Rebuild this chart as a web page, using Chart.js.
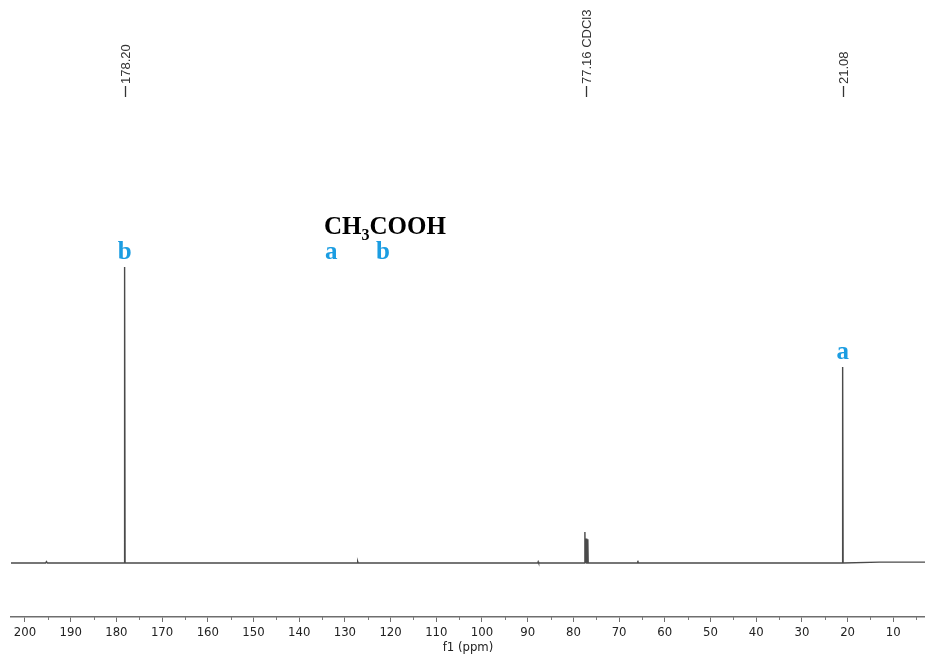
<!DOCTYPE html>
<html>
<head>
<meta charset="utf-8">
<script src="https://cdn.jsdelivr.net/npm/chart.js@4.4.1/dist/chart.umd.min.js"></script>
<style>
  html, body { margin: 0; padding: 0; background: #ffffff; }
  #wrap { width: 925px; height: 655px; position: relative; }
</style>
</head>
<body>
<div id="wrap"><canvas id="c" width="925" height="655"></canvas></div>
<script>
// ---- data (chemical shift in ppm, relative intensity) ----
const shiftPPM = [203.06, 195.5, 195.3, 195.1, 178.3, 178.2, 178.1, 127.3, 127.2, 127.1,
                  87.8, 87.7, 87.6, 77.6, 77.48, 77.4, 77.24, 77.16, 77.08, 76.92, 76.84, 76.76,
                  66.0, 65.9, 65.8, 21.18, 21.08, 20.98, 13.0, 3.06];
const intensity = [0, 0, 0.5, 0, 0, 100, 0, 0, 0.5, 0,
                   0, 0.4, 0, 0, 10.5, 0, 0, 8.3, 0, 0, 8.0, 0,
                   0, 0.8, 0, 0, 66.2, 0, 0.3, 0.3];
const majorTicks = [200, 190, 180, 170, 160, 150, 140, 130, 120, 110, 100, 90, 80, 70, 60, 50, 40, 30, 20, 10];
const minorTicks = [205, 195, 185, 175, 165, 155, 145, 135, 125, 115, 105, 95, 85, 75, 65, 55, 45, 35, 25, 15, 5];
const peakLabelPPM = [178.20, 77.16, 21.08];
const peakLabelText = ['178.20', '77.16 CDCl3', '21.08'];
const assignPPM = [178.20, 21.08];
const assignText = ['b', 'a'];
const assignValue = [100, 66.2];
const axisTitle = 'f1 (ppm)';

const points = shiftPPM.map((x, i) => ({ x: x, y: intensity[i] }));
const tickFont = '"Liberation Sans Narrow", "DejaVu Sans Condensed", "Liberation Sans", sans-serif';
const blue = '#1b9de2';

const annotPlugin = {
  id: 'annot',
  afterDraw(chart) {
    const ctx = chart.ctx;
    const xs = chart.scales.x, ys = chart.scales.y;
    const area = chart.chartArea;
    ctx.save();
    // minor ticks
    ctx.strokeStyle = '#7a7a7a';
    ctx.lineWidth = 1;
    minorTicks.forEach(v => {
      const px = Math.round(xs.getPixelForValue(v)) + 0.5;
      if (px < area.left || px > area.right) return;
      ctx.beginPath();
      ctx.moveTo(px, area.bottom);
      ctx.lineTo(px, area.bottom + 3);
      ctx.stroke();
    });
    // peak labels (rotated)
    ctx.fillStyle = '#333';
    ctx.strokeStyle = '#333';
    ctx.font = '13px "Liberation Sans", Arial, sans-serif';
    peakLabelPPM.forEach((v, i) => {
      const px = Math.round(xs.getPixelForValue(v)) + 0.5;
      ctx.save();
      ctx.translate(px, 97);
      ctx.rotate(-Math.PI / 2);
      ctx.lineWidth = 1.3;
      ctx.beginPath();
      ctx.moveTo(0, 0);
      ctx.lineTo(11, 0);
      ctx.stroke();
      ctx.textAlign = 'left';
      ctx.textBaseline = 'middle';
      ctx.fillText(peakLabelText[i], 13, 0.5);
      ctx.restore();
    });
    // assignment letters above peaks
    ctx.font = 'bold 25px "Liberation Serif", "DejaVu Serif", serif';
    ctx.fillStyle = blue;
    ctx.textAlign = 'center';
    ctx.textBaseline = 'alphabetic';
    assignPPM.forEach((v, i) => {
      const px = xs.getPixelForValue(v);
      const py = ys.getPixelForValue(assignValue[i]);
      ctx.fillText(assignText[i], px, py - 8);
    });
    // formula
    ctx.textAlign = 'left';
    ctx.fillStyle = '#000';
    let x0 = 324, base = 234;
    ctx.font = 'bold 25px "Liberation Serif", "DejaVu Serif", serif';
    ctx.fillText('CH', x0, base);
    x0 += ctx.measureText('CH').width;
    ctx.font = 'bold 16px "Liberation Serif", "DejaVu Serif", serif';
    ctx.fillText('3', x0, base + 6);
    x0 += ctx.measureText('3').width;
    ctx.font = 'bold 25px "Liberation Serif", "DejaVu Serif", serif';
    ctx.fillText('COOH', x0, base);
    ctx.fillStyle = blue;
    ctx.fillText('a', 325, 259);
    ctx.fillText('b', 376, 259);
    ctx.restore();
  }
};

new Chart(document.getElementById('c'), {
  type: 'line',
  data: {
    datasets: [{
      data: points,
      borderColor: '#4a4a4a',
      borderWidth: 1.4,
      pointRadius: 0,
      tension: 0,
      fill: false
    }]
  },
  options: {
    responsive: false,
    animation: false,
    events: [],
    layout: { padding: { left: 11, right: 0, top: 0, bottom: 0 } },
    plugins: { legend: { display: false }, tooltip: { enabled: false } },
    scales: {
      x: {
        type: 'linear',
        reverse: true,
        min: 3.06,
        max: 203.06,
        afterBuildTicks(scale) { scale.ticks = majorTicks.map(v => ({ value: v })); },
        afterFit(scale) { scale.height = 38; },
        border: { display: true, color: '#6e6e6e', width: 1.5 },
        grid: { drawOnChartArea: false, drawTicks: true, tickLength: 5, color: '#6e6e6e', lineWidth: 1 },
        ticks: {
          autoSkip: false,
          maxRotation: 0,
          padding: 3,
          color: '#222',
          font: { family: tickFont, size: 13 },
          callback: (v) => String(v)
        },
        title: {
          display: true,
          text: axisTitle,
          color: '#222',
          padding: { top: 0, bottom: 0 },
          font: { family: tickFont, size: 13 }
        }
      },
      y: {
        display: false,
        min: -18.243,
        max: 190.2
      }
    }
  },
  plugins: [annotPlugin]
});
</script>
</body>
</html>
